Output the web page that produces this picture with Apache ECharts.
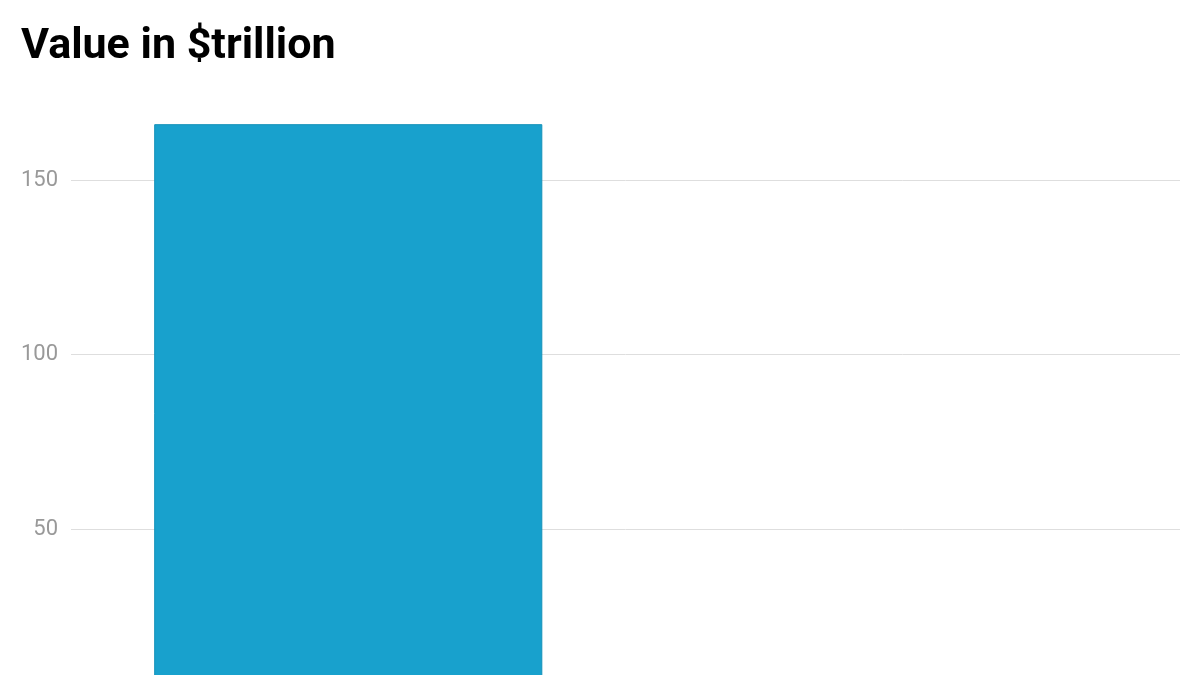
<!DOCTYPE html>
<html>
<head>
<meta charset="utf-8">
<script src="https://cdn.jsdelivr.net/npm/echarts@6/dist/echarts.min.js"></script>
<style>
  html, body { margin: 0; padding: 0; background: #fff; overflow: hidden; }
  #wrap { width: 1200px; height: 675px; overflow: hidden; }
  /* the chart runs past the bottom edge, like the cropped original */
  #chart { width: 1200px; height: 710px; }
</style>
</head>
<body>
<div id="wrap"><div id="chart"></div></div>
<script>
var categories = ['A', 'B'];
var values = [166, null];
var yTicks = { min: 0, max: 200, interval: 50 };

var chart = echarts.init(document.getElementById('chart'));

var option = {
  animation: false,
  title: {
    text: 'Value in $trillion',
    left: 16,
    top: 21,
    textStyle: {
      fontFamily: 'Roboto',
      fontWeight: 'bold',
      fontSize: 43,
      color: '#000'
    }
  },
  grid: {
    left: 71,
    right: 20,
    top: 5.5,
    bottom: 6.5,
    containLabel: false
  },
  xAxis: {
    type: 'category',
    data: categories,
    axisLine: { show: false },
    axisTick: { show: false },
    axisLabel: { show: false }
  },
  yAxis: {
    type: 'value',
    min: yTicks.min,
    max: yTicks.max,
    interval: yTicks.interval,
    axisLine: { show: false },
    axisTick: { show: false },
    axisLabel: {
      showMaxLabel: false,
      showMinLabel: false,
      margin: 13,
      fontFamily: 'Roboto',
      fontSize: 22,
      color: '#999999'
    },
    splitLine: {
      showMaxLine: false,
      lineStyle: { color: '#dedede', width: 1 }
    }
  },
  series: [{
    type: 'bar',
    data: values,
    barWidth: '70%',
    itemStyle: {
      color: '#18a1cd',
      borderColor: '#1592ba',
      borderWidth: 1
    }
  }]
};

chart.setOption(option);
</script>
</body>
</html>
